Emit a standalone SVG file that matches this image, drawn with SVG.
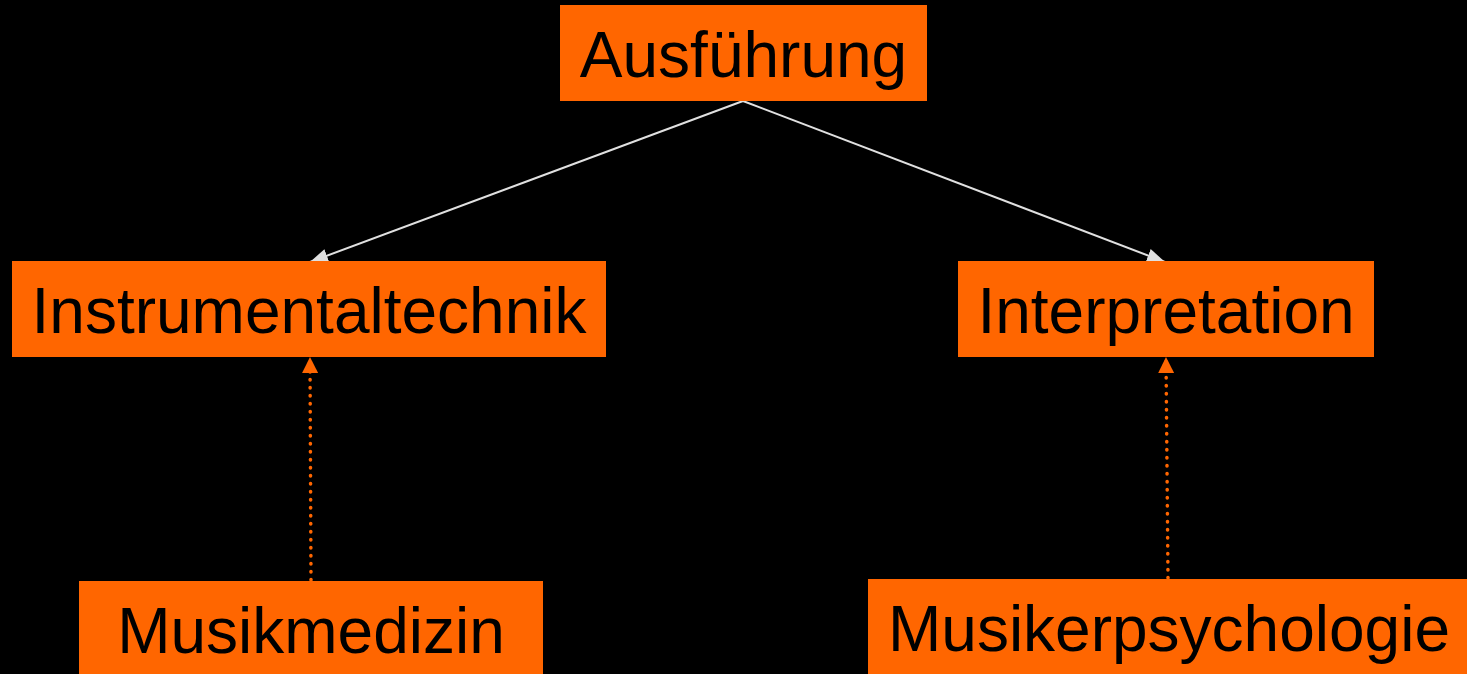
<svg xmlns="http://www.w3.org/2000/svg" width="1467" height="674" viewBox="0 0 1467 674">
<defs>
<style>
.box{fill:#ff6600;}
.lbl{font-family:"Liberation Sans",Arial,sans-serif;font-size:64px;fill:#000;text-anchor:middle;}
.solid{stroke:#e0e0e0;stroke-width:2;fill:none;}
.dot{stroke:#ff6600;stroke-width:3.5;stroke-linecap:round;stroke-dasharray:0.5 7.5;fill:none;}
</style>
<marker id="ah" markerWidth="18" markerHeight="14" refX="18" refY="7" orient="auto" markerUnits="userSpaceOnUse">
<path d="M0,0 L18,7 L0,14 Z" fill="#e0e0e0"/>
</marker>
<marker id="ao" markerWidth="16" markerHeight="16" refX="16" refY="8" orient="auto" markerUnits="userSpaceOnUse">
<path d="M0,0 L16,8 L0,16 Z" fill="#ff6600"/>
</marker>
</defs>
<rect width="1467" height="674" fill="#000"/>
<g id="connectors">
<line class="solid" x1="743" y1="101" x2="310" y2="262" marker-end="url(#ah)"/>
<line class="solid" x1="743" y1="101" x2="1165" y2="262" marker-end="url(#ah)"/>
<line class="dot" x1="311" y1="580" x2="310" y2="357" marker-end="url(#ao)"/>
<line class="dot" x1="1168" y1="578" x2="1166" y2="357" marker-end="url(#ao)"/>
</g>
<g id="ausfuehrung">
<rect class="box" x="560" y="5" width="367" height="96"/>
<text class="lbl" x="743.5" y="77">Ausführung</text>
</g>
<g id="instrumentaltechnik">
<rect class="box" x="12" y="261" width="594" height="96"/>
<text class="lbl" x="309" y="333">Instrumentaltechnik</text>
</g>
<g id="interpretation">
<rect class="box" x="958" y="261" width="416" height="96"/>
<text class="lbl" x="1166" y="333">Interpretation</text>
</g>
<g id="musikmedizin">
<rect class="box" x="79" y="581" width="464" height="95"/>
<text class="lbl" x="311" y="653">Musikmedizin</text>
</g>
<g id="musikerpsychologie">
<rect class="box" x="868" y="579" width="602" height="97"/>
<text class="lbl" x="1169" y="651">Musikerpsychologie</text>
</g>
</svg>
